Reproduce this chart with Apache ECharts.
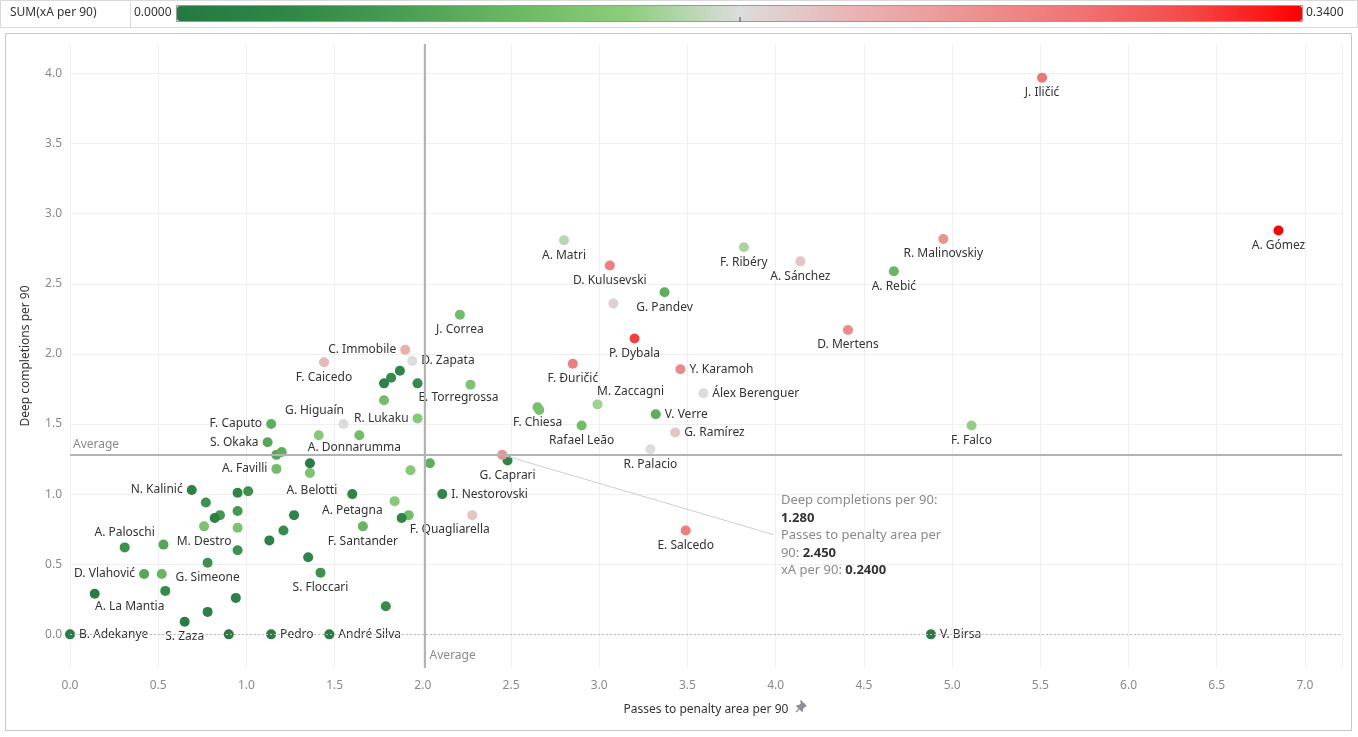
<!DOCTYPE html>
<html><head><meta charset="utf-8">
<script src="https://cdn.jsdelivr.net/npm/echarts@6/dist/echarts.min.js"></script>
<style>html,body{margin:0;padding:0;background:#fff}#c{width:1358px;height:737px}</style>
</head><body><div id="c"></div>
<script>
// ---- data ----
const names = ['J. Iličić','A. Gómez','R. Malinovskiy','A. Rebić','A. Sánchez','F. Ribéry','D. Mertens','A. Matri','D. Kulusevski','G. Pandev',
 '','P. Dybala','F. Đuričić','Y. Karamoh','Álex Berenguer','M. Zaccagni','V. Verre','F. Chiesa','','Rafael Leão',
 'G. Ramírez','R. Palacio','F. Falco','E. Salcedo','V. Birsa','G. Caprari','','I. Nestorovski','','J. Correa',
 'E. Torregrossa','C. Immobile','D. Zapata','F. Caicedo','','','','','','R. Lukaku',
 'G. Higuaín','','A. Donnarumma','F. Caputo','S. Okaka','','','A. Favilli','','',
 '','','A. Belotti','A. Petagna','F. Quagliarella','','F. Santander','N. Kalinić','','',
 '','','','','','M. Destro','','','A. Paloschi','',
 '','','','S. Floccari','G. Simeone','D. Vlahović','','A. La Mantia','','',
 '','','S. Zaza','','Pedro','André Silva','B. Adekanye'];
const passes = [5.51,6.85,4.95,4.67,4.14,3.82,4.41,2.80,3.06,3.37,
 3.08,3.20,2.85,3.46,3.59,2.99,3.32,2.65,2.66,2.90,
 3.43,3.29,5.11,3.49,4.88,2.48,2.45,2.11,2.28,2.21,
 2.27,1.90,1.94,1.44,1.87,1.82,1.78,1.97,1.78,1.97,
 1.55,1.41,1.64,1.14,1.12,1.17,1.20,1.17,1.36,1.36,
 1.93,2.04,1.60,1.84,1.92,1.88,1.66,0.69,0.77,0.95,
 1.01,0.85,0.82,0.95,1.27,0.76,0.95,1.21,0.31,0.53,
 0.95,1.13,1.35,1.42,0.78,0.42,0.52,0.14,0.54,0.94,
 1.79,0.78,0.65,0.90,1.14,1.47,0.00];
const deep = [3.97,2.88,2.82,2.59,2.66,2.76,2.17,2.81,2.63,2.44,
 2.36,2.11,1.93,1.89,1.72,1.64,1.57,1.62,1.60,1.49,
 1.44,1.32,1.49,0.74,0.00,1.24,1.28,1.00,0.85,2.28,
 1.78,2.03,1.95,1.94,1.88,1.83,1.79,1.79,1.67,1.54,
 1.50,1.42,1.42,1.50,1.37,1.28,1.30,1.18,1.22,1.15,
 1.17,1.22,1.00,0.95,0.85,0.83,0.77,1.03,0.94,1.01,
 1.02,0.85,0.83,0.88,0.85,0.77,0.76,0.74,0.62,0.64,
 0.60,0.67,0.55,0.44,0.51,0.43,0.43,0.29,0.31,0.26,
 0.20,0.16,0.09,0.00,0.00,0.00,0.00];
const xa = [0.27,0.34,0.24,0.10,0.19,0.15,0.25,0.155,0.26,0.09,
 0.18,0.31,0.26,0.25,0.17,0.145,0.09,0.11,0.115,0.11,
 0.19,0.17,0.14,0.26,0.01,0.03,0.24,0.03,0.19,0.11,
 0.12,0.21,0.17,0.20,0.03,0.04,0.02,0.04,0.11,0.13,
 0.17,0.13,0.11,0.09,0.08,0.08,0.09,0.11,0.01,0.12,
 0.13,0.09,0.03,0.13,0.11,0.03,0.10,0.02,0.05,0.03,
 0.05,0.06,0.02,0.06,0.03,0.12,0.12,0.04,0.05,0.08,
 0.05,0.02,0.03,0.05,0.05,0.08,0.10,0.01,0.04,0.02,
 0.04,0.02,0.01,0.01,0.01,0.01,0.01];
const xTicks = [0,0.5,1,1.5,2,2.5,3,3.5,4,4.5,5,5.5,6,6.5,7];
const yTicks = [0,0.5,1,1.5,2,2.5,3,3.5,4];
const avgPasses = 2.01;
const avgDeep = 1.28;
const xaMin = 0, xaMax = 0.34;
const tipIndex = 26;           // annotated point
const tipAnchor = [3.99, 0.71]; // where annotation leader line ends

// ---- label placement (style, not data) ----
const labelRules = {
 'Y. Karamoh':{position:'right'},'Álex Berenguer':{position:'right'},'V. Verre':{position:'right'},'G. Ramírez':{position:'right'},
 'V. Birsa':{position:'right'},'I. Nestorovski':{position:'right'},'D. Zapata':{position:'right'},
 'Pedro':{position:'right'},'André Silva':{position:'right'},'B. Adekanye':{position:'right'},
 'C. Immobile':{position:'left'},'R. Lukaku':{position:'left'},'F. Caputo':{position:'left'},'S. Okaka':{position:'left'},
 'A. Favilli':{position:'left'},'N. Kalinić':{position:'left'},'A. Belotti':{position:'left',offset:[-6,-4]},'D. Vlahović':{position:'left'},
 'A. Petagna':{position:'left',offset:[-3,9]},
 'M. Zaccagni':{position:'top',offset:[33,2]},'A. Paloschi':{position:'top'},
 'G. Higuaín':{position:'top',offset:[-29,2]},
 'A. Donnarumma':{position:'bottom',offset:[-5,-3]},
 'E. Torregrossa':{position:'bottom',offset:[-12,-2]},
 'F. Quagliarella':{position:'bottom',offset:[41,-1]},
 'A. La Mantia':{position:'bottom',offset:[35,-2]},
 'A. Cerri':{position:'bottom',offset:[13,1]}
};

const FONT = "'Noto Sans', 'DejaVu Sans', sans-serif";
const data = names.map((n,i)=>{
  const r = labelRules[n] || {position:'bottom'};
  return {name:n, value:[passes[i], deep[i], xa[i]], label:{position:r.position, offset:r.offset||[0,0]}};
});

const chart = echarts.init(document.getElementById('c'), null, {renderer:'canvas'});
const gridL = 70, gridR = 16, gridT = 44, gridB = 69;
const barLeft = 177, barLen = 1125, barTop = 6, barH = 15;
const yMin = -0.24, yMax = 4.21;

chart.setOption({
  animation:false,
  textStyle:{fontFamily:FONT},
  grid:{left:gridL, right:gridR, top:gridT, bottom:gridB, containLabel:false},
  xAxis:{type:'value', min:0, max:7.21, interval:0.5,
    name:'Passes to penalty area per 90', nameLocation:'middle', nameGap:36,
    nameTextStyle:{color:'#333', fontSize:12, fontFamily:FONT},
    axisLine:{show:false}, axisTick:{show:false},
    axisLabel:{color:'#8a8a8a', fontSize:12, margin:12, showMaxLabel:false,
      formatter:v=> xTicks.some(t=>Math.abs(t-v)<1e-6) ? v.toFixed(1) : ''},
    splitLine:{show:true, lineStyle:{color:'#efefef', width:1}}},
  yAxis:{type:'value', min:yMin, max:yMax,
    name:'Deep completions per 90', nameLocation:'middle', nameGap:38, nameRotate:90,
    nameTextStyle:{color:'#333', fontSize:12, fontFamily:FONT},
    axisLine:{show:false}, axisTick:{show:false, customValues:yTicks},
    axisLabel:{color:'#8a8a8a', fontSize:12, margin:8, customValues:yTicks,
      formatter:v=> v.toFixed(1)},
    splitLine:{show:true, lineStyle:{color:'#efefef', width:1}}},
  visualMap:{type:'continuous', min:xaMin, max:xaMax, dimension:2, seriesIndex:0,
    orient:'horizontal', left:barLeft, top:barTop, itemWidth:barH, itemHeight:barLen,
    calculable:false, realtime:false, text:null, showLabel:false, padding:0, hoverLink:false,
    inRange:{color:['#257842','#2f8748','#499e53','#6ab862','#8ccd7b','#dcdcdc','#e9b4b4','#ec9494','#f07474','#f54848','#ff0000']}},
  series:[
    {type:'scatter', data:data, symbolSize:10, clip:true,
      itemStyle:{opacity:1},
      label:{show:true, formatter:'{b}', color:'#333', fontSize:12, fontFamily:FONT, distance:4},
      markLine:{silent:true, symbol:['none','none'], label:{show:false},
        lineStyle:{color:'#cfcfcf', width:1, type:'solid'},
        data:[[{coord:[passes[tipIndex], deep[tipIndex]]},{coord:tipAnchor}]]},
      z:3},
    {type:'scatter', data:[], silent:true,
      markLine:{silent:true, symbol:['none','none'], label:{show:false}, animation:false,
        data:[
          {xAxis:avgPasses, lineStyle:{color:'#b3b3b3', width:2, type:'solid'}},
          {yAxis:avgDeep, lineStyle:{color:'#b3b3b3', width:2, type:'solid'}},
          {yAxis:0, lineStyle:{color:'#bdbdbd', width:1, type:[2,2]}}
        ]},
      z:2}
  ]
});

const pAvgX = chart.convertToPixel({gridIndex:0}, [avgPasses, yMin]);
const pAvgY = chart.convertToPixel({gridIndex:0}, [0, avgDeep]);
const pTip = chart.convertToPixel({gridIndex:0}, tipAnchor);
const fx = v=>v.toFixed(3);
chart.setOption({graphic:[
  // header row
  {type:'rect', left:0, top:0, shape:{x:0,y:0,width:1357,height:27}, style:{fill:'#fff', stroke:'#d9d9d9', lineWidth:1}, z:-1, silent:true},
  {type:'line', shape:{x1:130.5,y1:0,x2:130.5,y2:27}, style:{stroke:'#d9d9d9', lineWidth:1}, silent:true},
  {type:'text', left:10, top:7, style:{text:'SUM(xA per 90)', fill:'#333', fontSize:12, fontFamily:FONT}, silent:true},
  {type:'text', left:134, top:7, style:{text:xaMin.toFixed(4), fill:'#333', fontSize:12, fontFamily:FONT}, silent:true},
  {type:'text', left:barLeft+barLen+4, top:7, style:{text:xaMax.toFixed(4), fill:'#333', fontSize:12, fontFamily:FONT}, silent:true},
  {type:'rect', shape:{x:barLeft-0.5, y:barTop-0.5, width:barLen+1, height:barH+1}, style:{fill:'none', stroke:'#9a9a9a', lineWidth:1}, z:100, silent:true},
  {type:'line', shape:{x1:barLeft+barLen/2+0.5, y1:barTop+barH-4, x2:barLeft+barLen/2+0.5, y2:barTop+barH+1}, style:{stroke:'#444', lineWidth:1}, z:101, silent:true},
  // outer frame
  {type:'rect', shape:{x:5.5, y:33.5, width:1346, height:697}, style:{fill:'none', stroke:'#c8c8c8', lineWidth:1}, silent:true, z:-1},
  // pin icon next to x-axis title
  {type:'group', x:796, y:700, silent:true, children:[
    {type:'polygon', shape:{points:[[5,0],[11,6],[9,7],[7,9],[7,11],[6,12],[0,6],[1,5],[3,5],[5,3],[4,1]]}, style:{fill:'#8a8f98'}},
    {type:'line', shape:{x1:3,y1:9,x2:0,y2:12}, style:{stroke:'#8a8f98', lineWidth:1.2}}
  ]},
  // average labels
  {type:'text', left:gridL+3, top:pAvgY[1]-16, style:{text:'Average', fill:'#8a8a8a', fontSize:12, fontFamily:FONT}, silent:true},
  {type:'text', left:pAvgX[0]+5, top:pAvgX[1]-18, style:{text:'Average', fill:'#8a8a8a', fontSize:12, fontFamily:FONT}, silent:true},
  // annotation
  {type:'text', left:pTip[0]+7, top:pTip[1]-43,
    style:{text:'{l|Deep completions per 90:}\n{b|'+fx(deep[tipIndex])+'}\n{l|Passes to penalty area per}\n{l|90: }{b|'+fx(passes[tipIndex])+'}\n{l|xA per 90: }{b|'+xa[tipIndex].toFixed(4)+'}',
      fontFamily:FONT, fontSize:13, lineHeight:17.5,
      rich:{l:{fill:'#8a8a8a', fontSize:13, fontFamily:FONT, lineHeight:17.5}, b:{fill:'#333', fontSize:13, fontWeight:'bold', fontFamily:FONT, lineHeight:17.5}}}, silent:true, z:50}
]});
</script></body></html>
